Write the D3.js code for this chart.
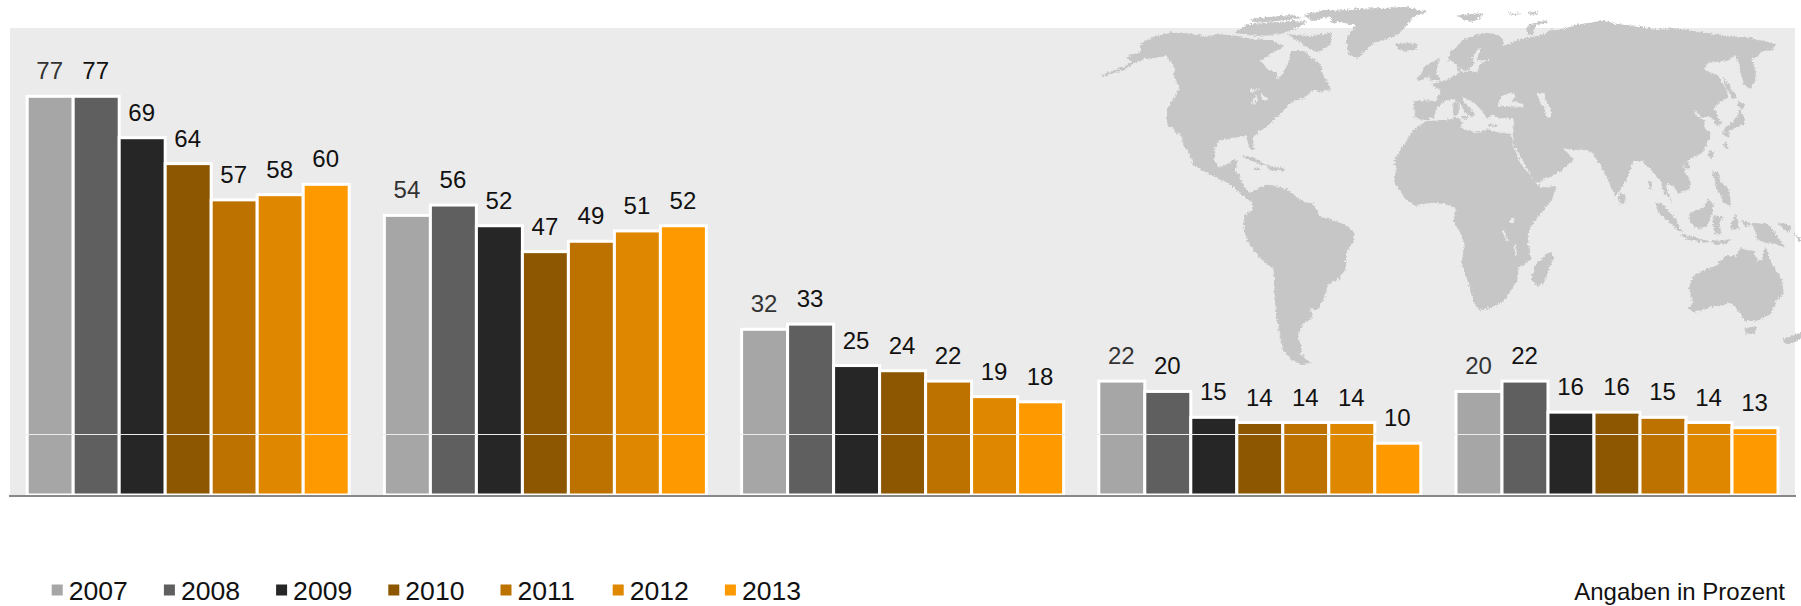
<!DOCTYPE html>
<html>
<head>
<meta charset="utf-8">
<script src="https://cdn.jsdelivr.net/npm/d3@7"></script>
<style>
  html, body { margin: 0; padding: 0; background: #fff; }
  svg { display: block; }
  text { font-family: "Liberation Sans", Arial, sans-serif; }
</style>
</head>
<body>
<div id="chart"></div>
<script>
const regions = ['r1', 'r2', 'r3', 'r4', 'r5'];
const years = ['2007', '2008', '2009', '2010', '2011', '2012', '2013'];
const values2007 = [77, 54, 32, 22, 20];
const values2008 = [77, 56, 33, 20, 22];
const values2009 = [69, 52, 25, 15, 16];
const values2010 = [64, 47, 24, 14, 16];
const values2011 = [57, 49, 22, 14, 15];
const values2012 = [58, 51, 19, 14, 14];
const values2013 = [60, 52, 18, 10, 13];
const seriesValues = [values2007, values2008, values2009, values2010, values2011, values2012, values2013];
const colors = ['#a6a6a6', '#5f5f5f', '#262626', '#8c5700', '#bd7200', '#e08700', '#ff9900'];
const labelColors = ['#333', '#111', '#111', '#111', '#111', '#111', '#111'];
const gridValue = 11.75;

// background map, traced by hand. [originX, originY, "x,y x,y ..."] in 1/3 px
const NA = [1090, 0];
const SA = [1200, 180];
const EU = [1330, 0];
const AS = [1561, 0];
const AF = [1380, 130];
const OC = [1561, 170];

const land = [
  // north america + central america
  [NA, '105,172 125,160 150,150 150,128 190,105 240,95 290,97 340,105 400,100 440,105 470,112 540,118 580,135 545,155 510,180 530,205 560,215 558,235 570,225 590,190 600,150 640,150 665,175 690,190 695,220 705,235 720,265 690,275 670,265 640,290 610,300 585,320 560,345 530,375 500,395 485,410 490,445 478,447 465,405 425,410 385,420 370,445 370,480 385,500 410,490 430,475 440,480 430,510 445,520 455,550 475,575 495,570 505,590 480,600 465,590 440,570 410,545 365,525 335,510 305,490 300,470 270,420 250,385 228,375 228,325 245,295 265,265 250,225 250,195 225,165 190,170 160,175 130,185 105,205 35,228 30,222 100,197 125,180'],
  // arctic islands
  [NA, '640,40 720,25 720,45 660,60'],
  [NA, '475,55 530,48 600,42 640,50 560,60 500,65'],
  [NA, '430,95 470,70 530,65 600,60 650,62 610,85 560,100 500,105'],
  [NA, '590,100 660,105 720,95 720,130 680,155 650,140 620,120'],
  // caribbean
  [NA, '450,462 490,470 530,495 510,490 470,475'],
  [NA, '530,495 580,500 575,510 535,508'],
  [NA, '490,500 505,500 505,508 490,507'],
  // south america
  [SA, '155,60 165,25 200,10 260,25 300,60 335,65 355,105 430,130 460,155 455,190 435,215 435,260 415,295 380,310 370,350 350,385 325,385 335,410 305,430 290,465 300,490 300,520 330,545 300,550 270,535 245,505 232,440 225,400 220,340 218,265 175,230 140,180 128,150 130,105 155,85'],
  // greenland, iceland, svalbard etc
  [EU, '0,30 70,25 130,22 230,18 290,32 250,45 225,75 195,105 130,125 100,150 78,175 55,160 45,120 55,95 75,75 40,65 0,65'],
  [EU, '195,130 225,125 258,130 255,145 220,150 200,145'],
  [EU, '380,42 455,37 450,50 425,62 400,58'],
  [EU, '530,35 570,38 560,42 535,40'],
  [EU, '590,35 620,32 615,40 595,42'],
  [EU, '585,80 600,68 650,58 650,65 615,75 605,100 590,100'],
  // britain, ireland, med islands
  [EU, '280,195 310,180 325,170 315,215 330,235 290,240 300,225 270,235'],
  [EU, '255,230 280,210 285,230 265,240'],
  [EU, '365,305 383,300 383,340 368,345'],
  [EU, '390,345 415,345 410,355 395,355'],
  [EU, '470,370 500,372 498,377 472,376'],
  // africa
  [EU, '285,360 330,358 385,350 395,365 390,380 440,395 470,385 510,395 540,395 545,425 AF', '395,40 420,100 465,155 480,170 525,165 515,200 490,235 450,285 440,320 447,360 450,385 410,415 408,450 370,510 330,530 295,538 280,520 260,450 240,395 250,350 240,310 218,270 225,235 200,220 150,215 105,225 70,200 40,155 45,110 40,85 70,40 95,0'],
  [AF, '505,362 520,380 505,410 490,455 470,468 450,440 465,400 490,375'],
  // eurasia
  [EU, '285,358 250,350 250,300 300,298 312,305 330,270 300,250 350,235 385,215 375,190 395,212 440,212 445,190 478,173 438,178 450,130 425,170 428,190 410,210 390,205 370,185 352,180 355,155 400,115 460,95 500,100 520,120 515,135 545,125 560,118 640,100 665,85 700,85 AS', '40,72 100,62 130,60 170,70 230,75 280,85 340,82 430,95 500,105 560,110 610,120 640,130 635,148 600,150 590,165 570,175 580,210 580,240 565,265 545,250 535,210 530,185 520,162 495,180 440,185 425,205 470,225 490,260 500,290 470,305 455,320 480,370 465,375 445,345 420,350 395,325 405,345 430,360 425,375 445,395 440,420 420,455 375,480 360,490 385,545 380,565 350,580 330,550 310,550 320,580 335,615 320,590 300,565 298,540 270,510 240,480 215,480 190,545 160,585 120,500 90,455 55,445 AF', '580,58 548,52 520,60 495,22 510,45 545,50 578,85 540,120 470,155 460,150 425,90 395,35 EU', '548,355 500,350 485,340 470,355 452,330 440,315 395,285 395,300 430,335 425,350 405,335 385,305 365,295 345,298 318,318 308,350'],
  // east asia islands
  [AS, '480,225 500,250 525,290 515,295 495,265'],
  [AS, '530,300 555,310 540,325 525,315'],
  [AS, '530,325 545,345 550,370 520,380 495,395 485,385 510,365 525,345'],
  [AS, '480,390 505,395 500,410 488,405'],
  [AS, '490,420 500,440 490,445 485,430'],
  [AS, '440,450 458,455 450,475 440,470'],
  [AS, '360,490 375,480 385,500 370,505'],
  // south east asia + oceania
  [OC, '175,60 190,75 190,95 175,98 170,80'],
  [OC, '260,30 270,30 268,55 262,55'],
  [OC, '450,0 470,5 472,30 500,50 508,105 485,95 462,50'],
  [OC, '280,95 300,100 340,140 362,185 345,175 310,145 285,115'],
  [OC, '355,190 420,205 450,212 420,215 375,205'],
  [OC, '450,210 510,205 490,220 460,222'],
  [OC, '380,130 420,110 440,85 455,100 450,130 435,165 410,175 385,155'],
  [OC, '455,135 490,140 470,150 480,190 460,190 452,165'],
  [OC, '505,160 525,125 530,175 510,175'],
  [OC, '540,145 570,160 550,170'],
  [OC, '570,155 620,160 650,200 670,230 640,220 610,215 585,205 578,175'],
  [OC, '645,155 690,165 680,185 660,170'],
  [OC, '695,180 720,210 710,212'],
  [OC, '455,290 490,255 520,255 535,232 575,240 585,270 600,265 610,225 630,280 660,325 665,365 640,395 625,430 585,450 550,450 530,420 505,395 440,410 400,425 380,410 392,395 380,350 395,315 430,295'],
  [OC, '550,470 585,465 575,490 550,490'],
  [OC, '662,505 700,490 720,483 720,500 690,515 672,518']
];

// inland water, same grey as the panel
const water = [
  [EU, '505,295 520,280 550,275 555,290 540,300 580,310 575,318 530,315 500,315'],
  [EU, '620,280 640,275 645,300 660,330 660,350 645,345 640,320 625,300'],
  [NA, '475,265 505,262 500,270 480,272'],
  [NA, '480,305 495,280 500,295 490,310'],
  [NA, '510,280 530,290 525,300 510,295'],
  [NA, '262,395 270,405 285,465 275,462 258,410'],
  [AF, '387,262 398,260 398,275 387,277'],
  [AF, '363,298 368,298 382,330 376,332'],
  [AF, '400,340 405,340 407,372 402,372']
];

const width = 1801;
const height = 606;
const panel = { left: 10, right: 1795, top: 28, bottom: 495 };

const svg = d3.select('#chart').append('svg')
  .attr('width', width)
  .attr('height', height)
  .attr('viewBox', `0 0 ${width} ${height}`);

// roughens the coast a bit, the original map is a low res bitmap
const soft = svg.append('defs').append('filter')
  .attr('id', 'soft')
  .attr('filterUnits', 'userSpaceOnUse')
  .attr('x', 1090).attr('y', 0).attr('width', 720).attr('height', 400);
soft.append('feTurbulence')
  .attr('type', 'turbulence')
  .attr('baseFrequency', 0.3)
  .attr('numOctaves', 2)
  .attr('seed', 4)
  .attr('result', 'noise');
soft.append('feDisplacementMap')
  .attr('in', 'SourceGraphic')
  .attr('in2', 'noise')
  .attr('scale', 4)
  .attr('xChannelSelector', 'R')
  .attr('yChannelSelector', 'G')
  .attr('result', 'rough');
soft.append('feGaussianBlur')
  .attr('in', 'rough')
  .attr('stdDeviation', 0.6);

// panel
svg.append('rect')
  .attr('x', panel.left)
  .attr('y', panel.top)
  .attr('width', panel.right - panel.left)
  .attr('height', panel.bottom - panel.top)
  .attr('fill', '#ebebeb');

// map
const origins = { AF, AS, EU, NA, OC, SA };
function shapePoints(item) {
  let origin = item[0];
  const points = [];
  item.slice(1).forEach(chunk => {
    chunk.trim().split(/\s+/).forEach(token => {
      if (origins[token]) {
        origin = origins[token];
      } else {
        const [px, py] = token.split(',').map(Number);
        points.push([origin[0] + px / 3, origin[1] + py / 3]);
      }
    });
  });
  return points;
}

const mapLine = d3.line().curve(d3.curveLinearClosed);
const mapGroup = svg.append('g').attr('filter', 'url(#soft)');

mapGroup.selectAll('path.land')
  .data(land)
  .join('path')
  .attr('class', 'land')
  .attr('d', d => mapLine(shapePoints(d)))
  .attr('fill', '#c6c6c6');

mapGroup.selectAll('path.water')
  .data(water)
  .join('path')
  .attr('class', 'water')
  .attr('d', d => mapLine(shapePoints(d)))
  .attr('fill', '#ebebeb');

// scales
const x0 = d3.scaleBand()
  .domain(regions)
  .range([27.2, 27.2 + 357.2 * regions.length]);

const x1 = d3.scaleBand()
  .domain(years)
  .range([0, 46 * years.length]);

const y = d3.scaleLinear()
  .domain([0, 90])
  .range([panel.bottom, panel.bottom - 90 * 5.178]);

// bars
const groups = svg.append('g').selectAll('g')
  .data(regions)
  .join('g')
  .attr('transform', d => `translate(${x0(d)},0)`);

groups.selectAll('rect')
  .data((d, i) => years.map((year, s) => ({ year, s, value: seriesValues[s][i] })))
  .join('rect')
  .attr('x', d => x1(d.year))
  .attr('y', d => y(d.value))
  .attr('width', x1.bandwidth())
  .attr('height', d => y(0) - y(d.value))
  .attr('fill', d => colors[d.s])
  .attr('stroke', '#fff')
  .attr('stroke-width', 3);

// grid line runs over the bars
svg.append('line')
  .attr('x1', panel.left)
  .attr('x2', panel.right)
  .attr('y1', Math.round(y(gridValue)) + 0.5)
  .attr('y2', Math.round(y(gridValue)) + 0.5)
  .attr('stroke', '#ebebeb')
  .attr('stroke-width', 1);

// value labels
groups.selectAll('text')
  .data((d, i) => years.map((year, s) => ({ year, s, value: seriesValues[s][i] })))
  .join('text')
  .attr('x', d => x1(d.year) + x1.bandwidth() / 2 - 0.5)
  .attr('y', d => y(d.value) - 17)
  .attr('text-anchor', 'middle')
  .attr('font-size', 24)
  .attr('fill', d => labelColors[d.s])
  .text(d => d.value);

// baseline
svg.append('line')
  .attr('x1', 9)
  .attr('x2', 1796)
  .attr('y1', y(0) + 1)
  .attr('y2', y(0) + 1)
  .attr('stroke', '#888')
  .attr('stroke-width', 2);

// legend
const legend = svg.append('g').selectAll('g')
  .data(years)
  .join('g')
  .attr('transform', (d, i) => `translate(${51.7 + i * 112.2},0)`);

legend.append('rect')
  .attr('y', 584.5)
  .attr('width', 11)
  .attr('height', 11)
  .attr('fill', (d, i) => colors[i]);

legend.append('text')
  .attr('x', 17)
  .attr('y', 600)
  .attr('font-size', 26.6)
  .attr('fill', '#111')
  .text(d => d);

svg.append('text')
  .attr('x', 1785)
  .attr('y', 600)
  .attr('text-anchor', 'end')
  .attr('font-size', 24)
  .attr('fill', '#111')
  .text('Angaben in Prozent');
</script>
</body>
</html>
